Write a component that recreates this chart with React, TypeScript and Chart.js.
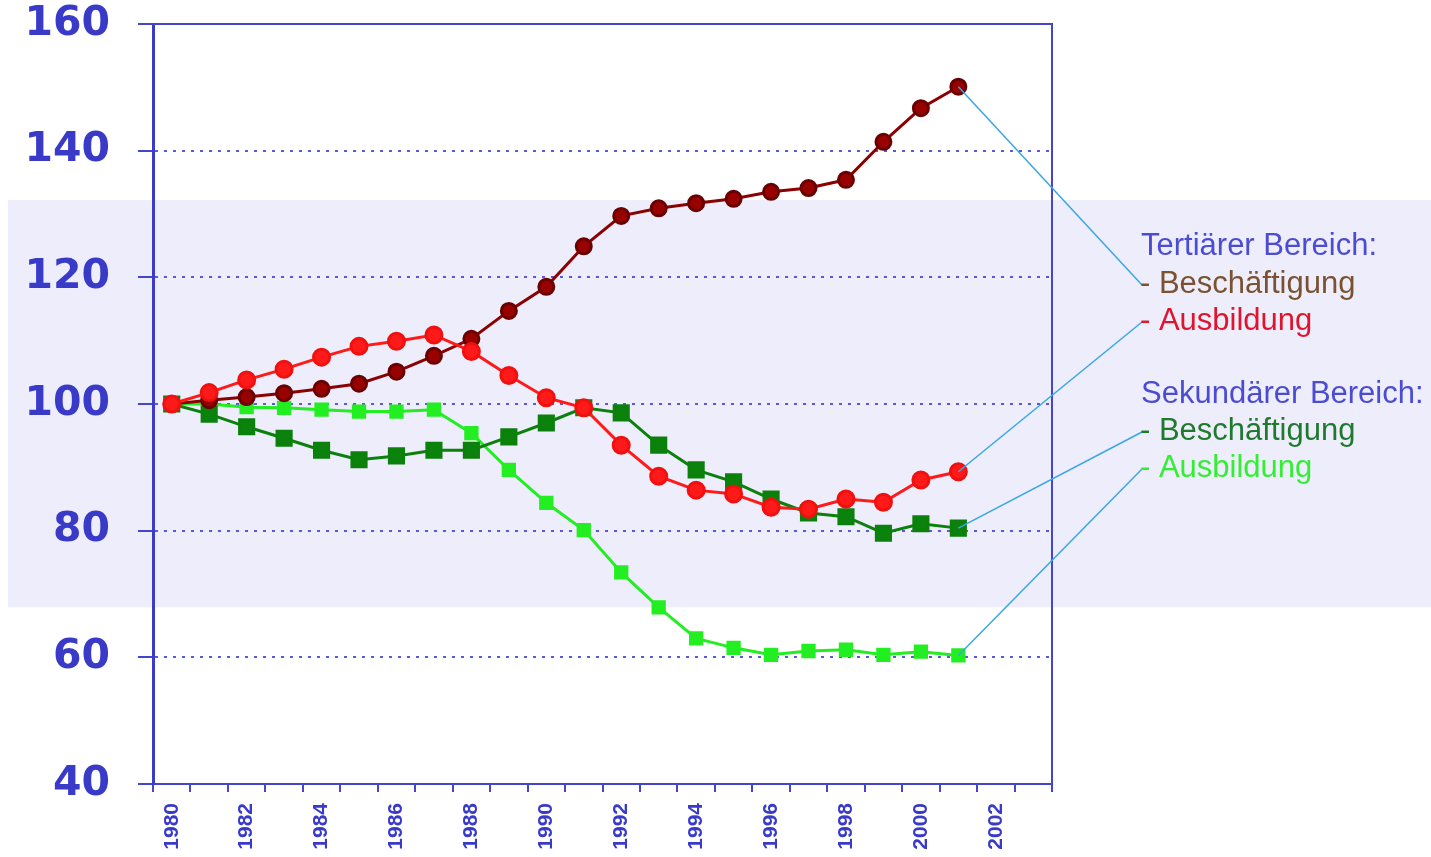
import React, { useEffect, useRef } from 'react';
import { Chart, registerables } from 'chart.js';

Chart.register(...registerables);

const years = ['1980','1981','1982','1983','1984','1985','1986','1987','1988','1989','1990','1991','1992','1993','1994','1995','1996','1997','1998','1999','2000','2001','2002','2003'];

const tertBeschaeftigung = [100, 100.6, 101.1, 101.7, 102.4, 103.2, 105.1, 107.6, 110.3, 114.7, 118.5, 124.9, 129.7, 130.9, 131.7, 132.4, 133.5, 134.1, 135.4, 141.4, 146.7, 150.1];
const tertAusbildung = [100, 101.8, 103.8, 105.5, 107.4, 109.1, 109.9, 110.9, 108.3, 104.5, 101.0, 99.4, 93.5, 88.6, 86.4, 85.8, 83.7, 83.4, 85.0, 84.5, 88.0, 89.3];
const sekBeschaeftigung = [100, 98.4, 96.4, 94.6, 92.7, 91.2, 91.8, 92.7, 92.7, 94.8, 97.0, 99.4, 98.6, 93.5, 89.6, 87.7, 85.0, 82.8, 82.2, 79.6, 81.1, 80.4];
const sekAusbildung = [100, 100, 99.5, 99.4, 99.1, 98.8, 98.8, 99.1, 95.4, 89.6, 84.4, 80.1, 73.4, 67.9, 63.0, 61.5, 60.4, 61.0, 61.2, 60.4, 60.9, 60.3];

const yTicks = [40, 60, 80, 100, 120, 140, 160];
const bandRange = [67.9, 132.2];

const legendHeadings = ['Tertiärer Bereich:', 'Sekundärer Bereich:'];
const legendEntries = ['- Beschäftigung', '- Ausbildung', '- Beschäftigung', '- Ausbildung'];

const BLUE = '#3a3ac8';

const bgPlugin = {
  id: 'bgBand',
  beforeDraw(chart: any) {
    const { ctx, width, height } = chart;
    const y = chart.scales.y;
    ctx.save();
    ctx.fillStyle = '#ffffff';
    ctx.fillRect(0, 0, width, height);
    const top = y.getPixelForValue(bandRange[1]);
    const bottom = y.getPixelForValue(bandRange[0]);
    ctx.fillStyle = '#ededfb';
    ctx.fillRect(8, top, width - 8, bottom - top);
    ctx.restore();
  },
  beforeDatasetsDraw(chart: any) {
    const { ctx, chartArea } = chart;
    ctx.save();
    ctx.strokeStyle = '#4646cc';
    ctx.lineWidth = 2;
    ctx.beginPath();
    ctx.moveTo(chartArea.left - 15, chartArea.top);
    ctx.lineTo(chartArea.right, chartArea.top);
    ctx.lineTo(chartArea.right, chartArea.bottom);
    ctx.stroke();
    ctx.restore();
  },
  afterDatasetsDraw(chart: any) {
    const { ctx } = chart;
    const lx = 1140;
    const headingY = [246, 394];
    const entryY = [284, 321, 431, 468];
    const entryColors = ['#7a5232', '#e0142e', '#1f7a2e', '#33ee33'];
    ctx.save();
    ctx.strokeStyle = '#3aa6e6';
    ctx.lineWidth = 1.5;
    chart.data.datasets.forEach((ds: any, i: number) => {
      const meta = chart.getDatasetMeta(i);
      const pt = meta.data[ds.data.length - 1];
      const target = entryY[ds.legendIndex];
      ctx.beginPath();
      ctx.moveTo(pt.x, pt.y);
      ctx.lineTo(lx + 2, target + 1);
      ctx.stroke();
    });
    ctx.font = '31px "Liberation Sans", Arial, sans-serif';
    ctx.textBaseline = 'middle';
    ctx.textAlign = 'left';
    legendHeadings.forEach((t, i) => {
      ctx.fillStyle = '#4c4cd2';
      ctx.fillText(t, lx + 1, headingY[i]);
    });
    legendEntries.forEach((t, i) => {
      ctx.fillStyle = entryColors[i];
      ctx.fillText(t, lx, entryY[i]);
    });
    ctx.restore();
  },
};

export default function App() {
  const ref = useRef<HTMLCanvasElement>(null);
  useEffect(() => {
    document.body.style.margin = '0';
    const canvas = ref.current!;
    const chart = new Chart(canvas, {
      type: 'line',
      data: {
        labels: years,
        datasets: [
          {
            label: 'Tertiär Ausbildung',
            legendIndex: 1,
            data: tertAusbildung,
            borderColor: '#ff1a1a',
            backgroundColor: '#ff1a1a',
            pointBorderColor: '#f01010',
            borderWidth: 3,
            pointRadius: 8,
            pointStyle: 'circle',
          } as any,
          {
            label: 'Tertiär Beschäftigung',
            legendIndex: 0,
            data: tertBeschaeftigung,
            borderColor: '#8b0000',
            backgroundColor: '#990000',
            pointBorderColor: '#6a0000',
            borderWidth: 3,
            pointRadius: 7.5,
            pointStyle: 'circle',
          } as any,
          {
            label: 'Sekundär Beschäftigung',
            legendIndex: 2,
            data: sekBeschaeftigung,
            borderColor: '#0c800c',
            backgroundColor: '#0b820b',
            borderWidth: 3,
            pointRadius: 10,
            pointStyle: 'rect',
          } as any,
          {
            label: 'Sekundär Ausbildung',
            legendIndex: 3,
            data: sekAusbildung,
            borderColor: '#22ee22',
            backgroundColor: '#22ee22',
            borderWidth: 3,
            pointRadius: 8,
            pointStyle: 'rect',
          } as any,
        ],
      },
      options: {
        responsive: false,
        animation: false,
        layout: { padding: { left: 0, top: 24, right: 379, bottom: 0 } },
        plugins: { legend: { display: false }, tooltip: { enabled: false } },
        scales: {
          x: {
            type: 'category',
            offset: true,
            afterFit: (s: any) => { s.height = 73; s.paddingLeft = 0; s.paddingRight = 0; },
            grid: {
              drawOnChartArea: false,
              offset: true,
              tickLength: 8,
              color: '#4646cc',
              lineWidth: 2,
            },
            border: { color: '#4646cc', width: 2 },
            ticks: {
              autoSkip: false,
              minRotation: 90,
              maxRotation: 90,
              padding: 11,
              color: BLUE,
              font: { family: '"Liberation Sans", Arial, sans-serif', size: 21, weight: 'bold' },
              callback: (_v: any, i: number) => (i % 2 === 0 && i <= 22 ? years[i] : ''),
            },
          },
          y: {
            min: yTicks[0],
            max: yTicks[yTicks.length - 1],
            afterFit: (s: any) => { s.width = 153; s.paddingTop = 0; s.paddingBottom = 0; },
            afterBuildTicks: (s: any) => { s.ticks = yTicks.map((v) => ({ value: v })); },
            grid: {
              color: (c: any) => (c.tick && (c.tick.value === 40 || c.tick.value === 160) ? 'rgba(0,0,0,0)' : '#5a5ad8'),
              lineWidth: 2,
              tickLength: 15,
              tickColor: '#4646cc',
              tickWidth: 2,
            },
            border: { color: '#3b3bc8', width: 3, dash: [3, 6] },
            ticks: {
              padding: 28,
              color: BLUE,
              font: { family: '"DejaVu Sans", sans-serif', size: 41, weight: 'bold' },
            },
          },
        },
      },
      plugins: [bgPlugin],
    });
    return () => chart.destroy();
  }, []);
  return (
    <div style={{ width: 1431, height: 857 }}>
      <canvas ref={ref} width={1431} height={857} style={{ display: 'block' }} />
    </div>
  );
}
